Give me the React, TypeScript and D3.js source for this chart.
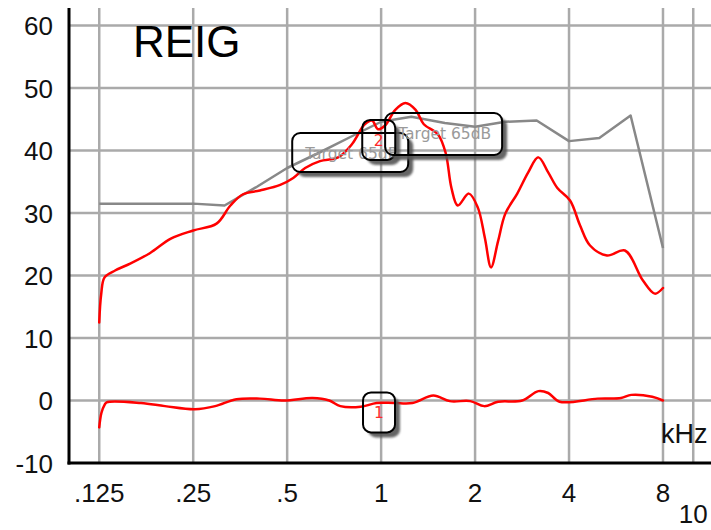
import React from 'react';
import * as d3 from 'd3';

// frequency axis (kHz)
const FREQ_TICKS = [0.125, 0.25, 0.5, 1, 2, 4, 8, 10];
const FREQ_LABELS = ['.125', '.25', '.5', '1', '2', '4', '8', '10'];
const DB_TICKS = [60, 50, 40, 30, 20, 10, 0, -10];

// grey target curve
const targetFreq = [0.125, 0.16, 0.2, 0.25, 0.315, 0.4, 0.5, 0.63, 0.8, 1.0, 1.25, 1.6, 2.0, 2.5, 3.15, 4, 5, 6.3, 8];
const targetDb = [31.5, 31.5, 31.5, 31.5, 31.2, 34.2, 37.2, 39.6, 42.2, 44.6, 45.4, 44.4, 43.8, 44.6, 44.8, 41.5, 42, 45.6, 24.4];

// red curve 2 (aided response)
const curve2Freq = [0.125, 0.1268, 0.13, 0.1405, 0.157, 0.182, 0.212, 0.25, 0.297, 0.329, 0.361, 0.409, 0.475, 0.523, 0.571, 0.637, 0.728, 0.806, 0.886, 0.935, 0.978, 1.03, 1.11, 1.196, 1.29, 1.37, 1.52, 1.61, 1.68, 1.76, 1.91, 2.04, 2.15, 2.25, 2.37, 2.5, 2.73, 2.96, 3.19, 3.43, 3.67, 4.03, 4.34, 4.67, 5.29, 6.04, 6.9, 7.53, 8.0];
const curve2Db = [12.5, 17, 19.7, 20.8, 21.9, 23.6, 25.9, 27.2, 28.3, 31.2, 33.0, 33.6, 34.5, 35.6, 37.2, 38.3, 38.9, 41, 44.2, 44.8, 43.4, 44, 46.5, 47.6, 46.5, 44.2, 42.6, 39.6, 34, 31.2, 33.1, 30.9, 26, 21.3, 25.5, 29.9, 33.1, 36.5, 38.9, 36.5, 34, 32, 28, 24.8, 23.2, 24, 19.2, 17.1, 18];

// red curve 1 (near 0 dB)
const curve1Freq = [0.125, 0.127, 0.13, 0.132, 0.17, 0.203, 0.253, 0.294, 0.344, 0.409, 0.49, 0.603, 0.682, 0.74, 0.86, 0.967, 1.1, 1.26, 1.47, 1.66, 1.93, 2.14, 2.37, 2.83, 3.19, 3.43, 3.73, 4.94, 5.87, 6.33, 7.39, 8.0];
const curve1Db = [-4.3, -2, -0.7, -0.3, -0.4, -0.9, -1.4, -0.9, 0.2, 0.3, 0.0, 0.4, 0, -0.9, -1.0, -0.4, -0.4, -0.4, 0.8, -0.1, -0.1, -0.9, -0.2, 0, 1.5, 1.2, -0.2, 0.3, 0.4, 0.9, 0.6, 0];

// callout boxes, anchored at (kHz, dB) of their top-left corner
const notes = [
  { f: 0.519, db: 42.8, w: 116, h: 39, text: 'Target 65dB', color: '#9a9a9a', center: false },
  { f: 0.87, db: 44.9, w: 33, h: 40, text: '2', color: '#ff2a2a', center: true },
  { f: 1.03, db: 46.0, w: 117, h: 42, text: 'Target 65dB', color: '#9a9a9a', center: false },
  { f: 0.875, db: 1.3, w: 32, h: 40, text: '1', color: '#ff2a2a', center: true },
];

const W = 711;
const H = 530;
const LEFT = 69;
const TOP = 8;
const BOTTOM = 463;

export default function App() {
  const x = d3.scaleLog().domain([0.1, 11.4]).range([LEFT, W]);
  const y = d3.scaleLinear().domain([-10, 62.8]).range([BOTTOM, TOP]);

  const straight = d3.line<[number, number]>().x(d => x(d[0])).y(d => y(d[1]));
  const smooth = d3.line<[number, number]>().x(d => x(d[0])).y(d => y(d[1])).curve(d3.curveCatmullRom.alpha(0.5));

  const target = targetFreq.map((f, i) => [f, targetDb[i]] as [number, number]);
  const c2 = curve2Freq.map((f, i) => [f, curve2Db[i]] as [number, number]);
  const c1 = curve1Freq.map((f, i) => [f, curve1Db[i]] as [number, number]);

  const font = '"Liberation Sans", Arial, sans-serif';

  return (
    <svg width={W} height={H} viewBox={`0 0 ${W} ${H}`} style={{ position: 'absolute', left: 0, top: 0, background: '#fff' }}>
      <defs>
        <filter id="sblur" x="-20%" y="-20%" width="140%" height="140%">
          <feGaussianBlur stdDeviation="1.2" />
        </filter>
        {notes.map((n, i) => (
          <mask id={`nm${i}`} key={i} maskUnits="userSpaceOnUse" x={0} y={0} width={W} height={H}>
            <rect x={0} y={0} width={W} height={H} fill="white" />
            <rect x={x(n.f)} y={y(n.db)} width={n.w} height={n.h} rx={8} fill="black" />
          </mask>
        ))}
      </defs>

      {/* grid */}
      <g stroke="#aaaaaa" strokeWidth={2.5}>
        {DB_TICKS.filter(d => d !== -10).map(d => (
          <line key={'h' + d} x1={LEFT} x2={W} y1={y(d)} y2={y(d)} />
        ))}
        {FREQ_TICKS.map(f => (
          <line key={'v' + f} x1={x(f)} x2={x(f)} y1={TOP} y2={BOTTOM} />
        ))}
      </g>

      {/* title */}
      <text x={133} y={57} fontFamily={font} fontSize={44} fill="#000">REIG</text>

      {/* curves */}
      <path d={straight(target) || ''} fill="none" stroke="#888888" strokeWidth={2.5} strokeLinejoin="round" />
      <path d={smooth(c2) || ''} fill="none" stroke="#ff0000" strokeWidth={2.5} strokeLinejoin="round" strokeLinecap="round" />
      <path d={smooth(c1) || ''} fill="none" stroke="#ff0000" strokeWidth={2.5} strokeLinejoin="round" strokeLinecap="round" />

      {/* callouts */}
      {notes.map((n, i) => {
        const bx = x(n.f);
        const by = y(n.db);
        return (
          <g key={'n' + i}>
            <rect x={bx + 5} y={by + 5} width={n.w} height={n.h} rx={8} fill="#555" opacity={0.9}
              filter="url(#sblur)" mask={`url(#nm${i})`} />
            <rect x={bx} y={by} width={n.w} height={n.h} rx={8} fill="none" stroke="#000" strokeWidth={2} />
            <text x={n.center ? bx + n.w / 2 : bx + 13} y={by + 26} textAnchor={n.center ? 'middle' : 'start'}
              fontFamily='"DejaVu Sans", Verdana, sans-serif' fontSize={15.5} fill={n.color}>{n.text}</text>
          </g>
        );
      })}

      {/* axes */}
      <line x1={LEFT} x2={LEFT} y1={TOP} y2={BOTTOM + 1.5} stroke="#000" strokeWidth={3} />
      <line x1={LEFT - 1.5} x2={W} y1={BOTTOM} y2={BOTTOM} stroke="#000" strokeWidth={3} />

      {/* y labels */}
      {DB_TICKS.map(d => (
        <text key={'yl' + d} x={53} y={y(d) + 9.5} textAnchor="end" fontFamily={font} fontSize={26} fill="#111">{d}</text>
      ))}

      {/* x labels */}
      {FREQ_TICKS.map((f, i) => (
        <text key={'xl' + f} x={x(f)} y={f === 10 ? 523 : 502} textAnchor="middle" fontFamily={font} fontSize={26} fill="#111">{FREQ_LABELS[i]}</text>
      ))}

      <text x={661} y={443} fontFamily={font} fontSize={27} fill="#111">kHz</text>
    </svg>
  );
}
